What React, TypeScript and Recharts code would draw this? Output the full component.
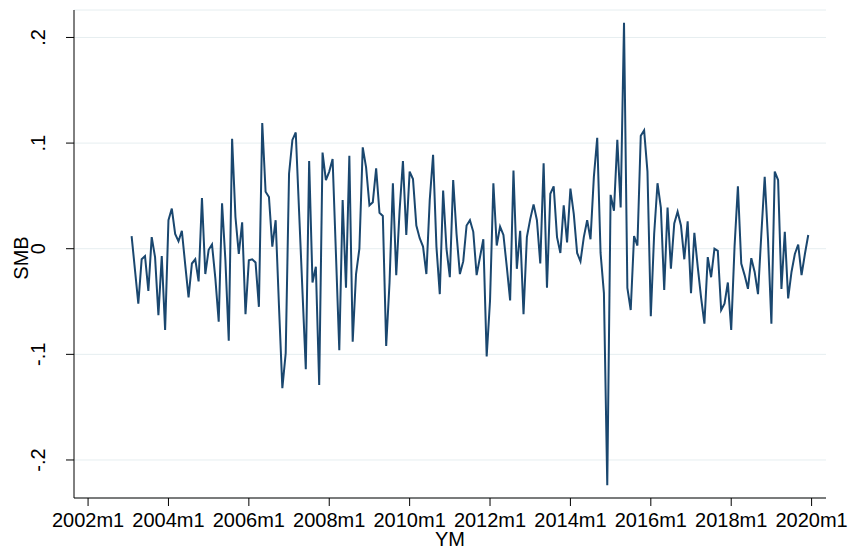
import { LineChart, Line, XAxis, YAxis, CartesianGrid } from "recharts";

// months counted from 2002m1 (= 0); first observation is 2003m2
const START_YEAR = 2002;
const FIRST_MONTH = 13;

const SMB = [
  0.012, -0.02, -0.052, -0.01, -0.007, -0.04, 0.011, -0.008, -0.063, -0.007, -0.077,
  0.027, 0.038, 0.014, 0.007, 0.017, -0.015, -0.046, -0.014, -0.01, -0.031, 0.048,
  -0.024, -0.001, 0.004, -0.028, -0.069, 0.043, -0.011, -0.087, 0.104, 0.03, -0.005,
  0.025, -0.062, -0.011, -0.01, -0.013, -0.055, 0.119, 0.054, 0.049, 0.002, 0.027,
  -0.055, -0.132, -0.099, 0.071, 0.103, 0.11, 0.035, -0.04, -0.114, 0.083, -0.032,
  -0.017, -0.129, 0.091, 0.065, 0.073, 0.085, -0.005, -0.096, 0.046, -0.037, 0.088,
  -0.088, -0.024, 0.0, 0.096, 0.077, 0.041, 0.044, 0.076, 0.034, 0.031, -0.092,
  -0.032, 0.062, -0.025, 0.036, 0.083, 0.013, 0.073, 0.066, 0.022, 0.01, 0.002,
  -0.024, 0.046, 0.089, 0.002, -0.043, 0.055, 0.0, -0.027, 0.065, 0.014, -0.024,
  -0.012, 0.022, 0.027, 0.016, -0.025, -0.008, 0.009, -0.102, -0.049, 0.062, 0.003,
  0.021, 0.013, -0.017, -0.049, 0.074, -0.019, 0.017, -0.062, 0.011, 0.028, 0.042,
  0.027, -0.014, 0.081, -0.037, 0.052, 0.059, 0.011, -0.004, 0.041, 0.006, 0.057,
  0.033, -0.004, -0.012, 0.011, 0.027, 0.009, 0.068, 0.105, -0.004, -0.042, -0.224,
  0.051, 0.036, 0.103, 0.039, 0.214, -0.037, -0.058, 0.012, 0.003, 0.107, 0.112,
  0.073, -0.064, 0.014, 0.062, 0.039, -0.039, 0.039, -0.019, 0.024, 0.035, 0.022,
  -0.01, 0.026, -0.042, 0.015, -0.017, -0.046, -0.071, -0.008, -0.027, 0.0, -0.002,
  -0.058, -0.052, -0.032, -0.077, 0.002, 0.059, -0.014, -0.025, -0.038, -0.009,
  -0.022, -0.043, 0.014, 0.068, 0.008, -0.071, 0.073, 0.065, -0.038, 0.016, -0.047,
  -0.022, -0.005, 0.004, -0.025, -0.005, 0.013,
];

const X_TICKS = [0, 24, 48, 72, 96, 120, 144, 168, 192, 216];
const Y_TICKS = [-0.2, -0.1, 0, 0.1, 0.2];
const Y_LABELS = ["-.2", "-.1", "0", ".1", ".2"];

const data = SMB.map((v, i) => ({ t: FIRST_MONTH + i, smb: v }));

const FONT = "'Liberation Sans', Arial, sans-serif";
const FS = 20;

const XTick = (props: any) => {
  const { x, y, payload } = props;
  const label = `${START_YEAR + Math.floor(payload.value / 12)}m${(payload.value % 12) + 1}`;
  return (
    <text x={x} y={y + 19} textAnchor="middle" fontFamily={FONT} fontSize={FS} fill="#000">
      {label}
    </text>
  );
};

const YTick = (props: any) => {
  const { x, y, payload } = props;
  const idx = Y_TICKS.findIndex((t) => Math.abs(t - payload.value) < 1e-9);
  const bx = x - 19;
  return (
    <text
      x={bx}
      y={y}
      transform={`rotate(-90, ${bx}, ${y})`}
      textAnchor="middle"
      fontFamily={FONT}
      fontSize={FS}
      fill="#000"
    >
      {idx >= 0 ? Y_LABELS[idx] : ""}
    </text>
  );
};

export default function App() {
  return (
    <div style={{ position: "absolute", left: 0, top: 0, width: 854, height: 550, background: "#fff" }}>
      <LineChart
        width={854}
        height={550}
        data={data}
        margin={{ top: 10, right: 28, left: 24, bottom: 22 }}
      >
        <CartesianGrid vertical={false} stroke="#e6eef0" strokeWidth={1} />
        <XAxis
          type="number"
          dataKey="t"
          domain={[-4.2, 220.3]}
          ticks={X_TICKS}
          interval={0}
          height={30}
          tickSize={8}
          tickMargin={2}
          tick={<XTick />}
          stroke="#000"
          allowDataOverflow
          label={{
            content: (p: any) => (
              <text
                x={p.viewBox.x + p.viewBox.width / 2}
                y={546}
                textAnchor="middle"
                fontFamily={FONT}
                fontSize={FS}
                fill="#000"
              >
                YM
              </text>
            ),
          }}
        />
        <YAxis
          type="number"
          domain={[-0.236, 0.226]}
          ticks={Y_TICKS}
          interval={0}
          width={50}
          tickSize={8}
          tickMargin={2}
          tick={<YTick />}
          stroke="#000"
          allowDataOverflow
          label={{
            content: (p: any) => {
              const cy = p.viewBox.y + p.viewBox.height / 2 + 4;
              return (
                <text
                  x={28}
                  y={cy}
                  transform={`rotate(-90, 28, ${cy})`}
                  textAnchor="middle"
                  fontFamily={FONT}
                  fontSize={FS}
                  fill="#000"
                >
                  SMB
                </text>
              );
            },
          }}
        />
        <Line
          type="linear"
          dataKey="smb"
          stroke="#1a476f"
          strokeWidth={2}
          dot={false}
          isAnimationActive={false}
        />
      </LineChart>
    </div>
  );
}
